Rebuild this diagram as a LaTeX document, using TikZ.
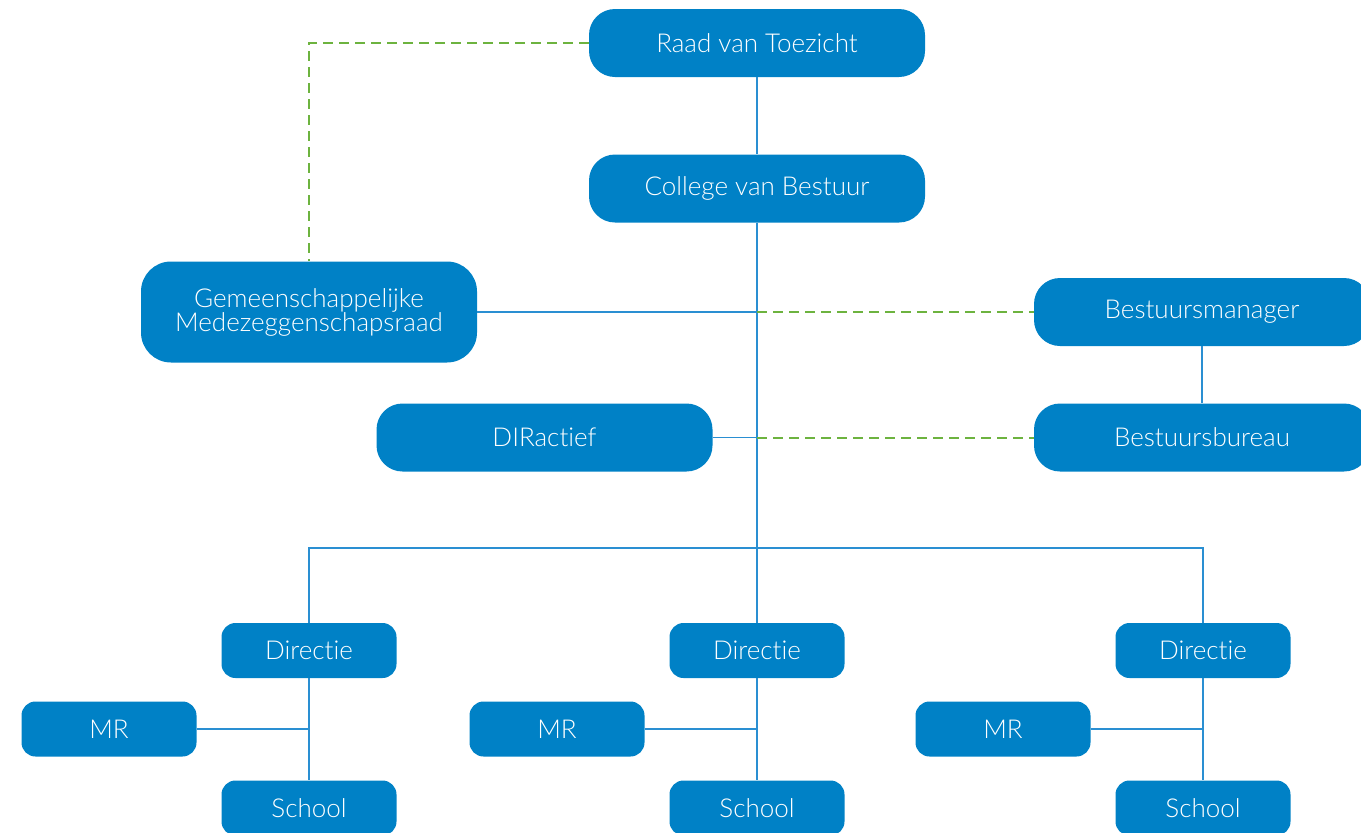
\documentclass[tikz,border=0pt]{standalone}
\usepackage{fontspec}
\setmainfont{Lato Light}[Ligatures=NoCommon]
\definecolor{boxblue}{HTML}{0081C6}
\definecolor{lineblue}{HTML}{2A8FD2}
\definecolor{dashgreen}{HTML}{6DB33F}
\begin{document}
\begin{tikzpicture}[x=1pt,y=-1pt,
  bigbox/.style={fill=boxblue, text=white, rounded corners=26pt, minimum width=336pt, minimum height=68pt, inner sep=0pt, font=\fontsize{26}{28}\selectfont, align=center},
  smallbox/.style={fill=boxblue, text=white, rounded corners=14pt, minimum width=175pt, minimum height=55pt, inner sep=0pt, font=\fontsize{26}{28}\selectfont},
  link/.style={draw=lineblue, line width=1.5pt},
  dlink/.style={draw=dashgreen, line width=2pt, dash pattern=on 10pt off 6pt}]
\useasboundingbox (0,0) rectangle (1361,833);
\node[bigbox] (rvt) at (757,43) {Raad van Toezicht};
\node[bigbox] (cvb) at (757,188.5) {College van Bestuur};
\node[bigbox, minimum height=101pt, rounded corners=30pt] (gmr) at (309,312) {Gemeenschappelijke\\[-4pt]Medezeggenschapsraad};
\node[bigbox] (bm) at (1202,312) {Bestuursmanager};
\node[bigbox] (bb) at (1202,437.5) {Bestuursbureau};
\node[bigbox] (dir) at (544.5,437.5) {DIRactief};
\foreach \n/\x/\m in {1/309/109, 2/757/557, 3/1203/1003} {
  \node[smallbox] (d\n) at (\x,650.5) {Directie};
  \node[smallbox] (mr\n) at (\m,729) {MR};
  \node[smallbox] (s\n) at (\x,808) {School};
  \draw[link] (d\n.south) -- (s\n.north);
  \draw[link] (mr\n.east) -- (mr\n.east -| d\n.south);
}
\coordinate (bar) at (757,548);
\draw[link] (rvt.south) -- (cvb.north);
\draw[link] (cvb.south) -- (d2.north);
\draw[link] (d1.north) |- (bar) -| (d3.north);
\draw[link] (gmr.east) -- (gmr.east -| cvb.south) coordinate (tgmr);
\draw[link] (dir.east) -- (dir.east -| cvb.south) coordinate (tdir);
\draw[link] (bm.south) -- (bb.north);
\draw[dlink] (tgmr) -- (bm.west);
\draw[dlink] (tdir) -- (bb.west);
\draw[dlink] (rvt.west) -| (gmr.north);
\end{tikzpicture}
\end{document}
